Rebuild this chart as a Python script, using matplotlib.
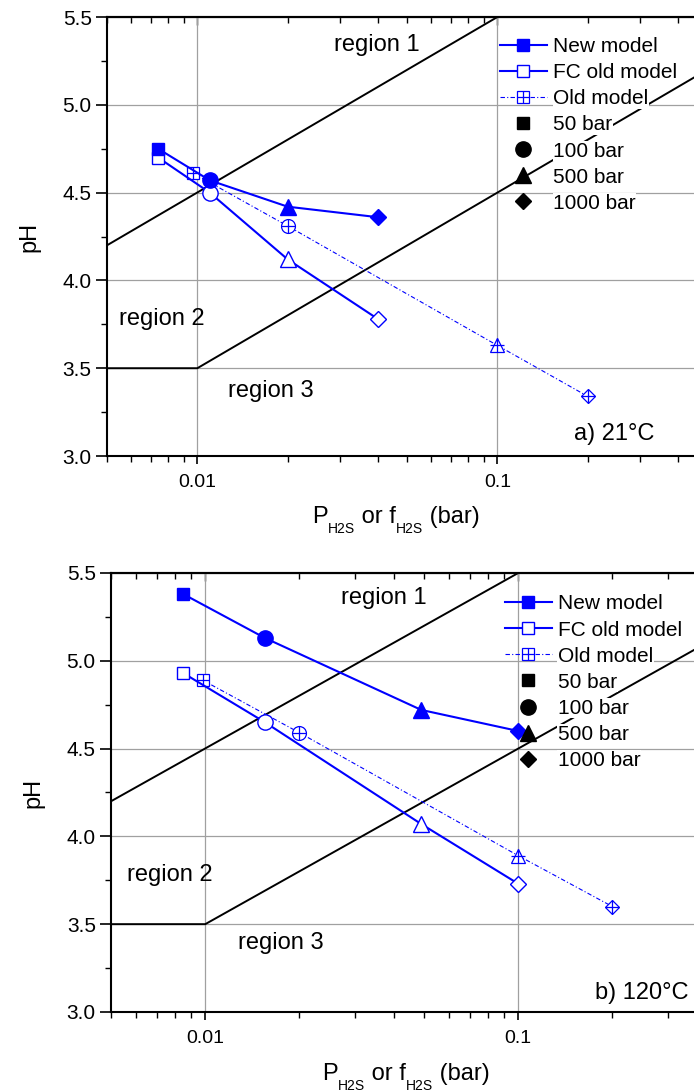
# pH vs H2S partial pressure / fugacity, two temperatures, with the sour-service region lines
import matplotlib
matplotlib.use('Agg')
import matplotlib.pyplot as plt
from matplotlib.lines import Line2D
from matplotlib.ticker import FixedLocator, FixedFormatter, LogLocator, NullFormatter, MultipleLocator, FormatStrFormatter

plt.rcParams['font.family'] = ['Liberation Sans', 'DejaVu Sans']

# a) 21 C  (points are 50, 100, 500, 1000 bar)
new_x_21 = [0.0074, 0.011, 0.02, 0.04]
new_ph_21 = [4.75, 4.57, 4.42, 4.36]
fc_x_21 = [0.0074, 0.011, 0.02, 0.04]
fc_ph_21 = [4.70, 4.50, 4.12, 3.78]
old_x_21 = [0.0097, 0.02, 0.1, 0.2]
old_ph_21 = [4.61, 4.31, 3.63, 3.34]

# b) 120 C
new_x_120 = [0.0085, 0.0155, 0.049, 0.1]
new_ph_120 = [5.38, 5.13, 4.72, 4.60]
fc_x_120 = [0.0085, 0.0155, 0.049, 0.1]
fc_ph_120 = [4.93, 4.65, 4.07, 3.73]
old_x_120 = [0.0098, 0.02, 0.1, 0.2]
old_ph_120 = [4.89, 4.59, 3.89, 3.60]

# region boundary lines (same in both panels)
bound1_x = [0.005, 0.1]
bound1_ph = [4.2, 5.5]
bound2_x = [0.005, 0.01, 1.0]
bound2_ph = [3.5, 3.5, 5.5]

pressure_labels = ['50 bar', '100 bar', '500 bar', '1000 bar']
pressure_markers = ['s', 'o', '^', 'D']
marker_sizes = [9, 11, 11, 8]
old_marker_sizes = [9, 10, 10, 7.5]
x_tick_vals = [0.01, 0.1]
x_tick_text = ['0.01', '0.1']

blue = '#0000ff'
old_dashes = (4, 2, 1, 2)


def plus_size(marker, ms):
    # the cross inside the old-model symbols spans the whole marker
    return ms * 1.41 if marker == 'D' else ms


def h2s_xlabel(ax, x0, y0):
    # "P_H2S or f_H2S (bar)" with small, low subscripts, built piece by piece
    p = ax.text(x0, y0, 'P', transform=ax.transAxes, fontsize=17, ha='left', va='baseline')
    s1 = ax.annotate('H2S', xy=(1, 0), xycoords=p, xytext=(0, 4.5), textcoords='offset points',
                     fontsize=10, ha='left', va='top')
    w = ax.annotate(' or f', xy=(1, 0), xycoords=(s1, p), fontsize=17, ha='left', va='bottom')
    s2 = ax.annotate('H2S', xy=(1, 0), xycoords=w, xytext=(0, 4.5), textcoords='offset points',
                     fontsize=10, ha='left', va='top')
    ax.annotate(' (bar)', xy=(1, 0), xycoords=(s2, p), fontsize=17, ha='left', va='bottom')


def draw_panel(ax, new_x, new_ph, fc_x, fc_ph, old_x, old_ph):
    ax.set_xscale('log')
    ax.set_xlim(0.005, 0.5)
    ax.set_ylim(3.0, 5.5)
    ax.set_axisbelow(True)
    ax.grid(True, which='major', color='#a0a0a0', lw=0.9)

    # region lines
    ax.plot(bound1_x, bound1_ph, color='k', lw=1.4, zorder=2)
    ax.plot(bound2_x, bound2_ph, color='k', lw=1.4, zorder=2)

    # old model: thin dashed line, open markers with a cross
    ax.plot(old_x, old_ph, color=blue, lw=0.8, dashes=old_dashes, zorder=3)
    for i in range(len(old_x)):
        m = pressure_markers[i]
        ax.plot(old_x[i], old_ph[i], ls='none', marker=m, ms=old_marker_sizes[i],
                mfc='white', mec=blue, mew=0.9, zorder=4)
        ax.plot(old_x[i], old_ph[i], ls='none', marker='+', ms=plus_size(m, old_marker_sizes[i]),
                mec=blue, mew=0.9, zorder=4)

    # FC old model: solid line, open markers
    ax.plot(fc_x, fc_ph, color=blue, lw=1.5, zorder=5)
    for i in range(len(fc_x)):
        ax.plot(fc_x[i], fc_ph[i], ls='none', marker=pressure_markers[i], ms=marker_sizes[i],
                mfc='white', mec=blue, mew=1.0, zorder=6)

    # new model: solid line, filled markers
    ax.plot(new_x, new_ph, color=blue, lw=1.5, zorder=7)
    for i in range(len(new_x)):
        ax.plot(new_x[i], new_ph[i], ls='none', marker=pressure_markers[i], ms=marker_sizes[i],
                mfc=blue, mec=blue, mew=1.0, zorder=8)

    # ticks
    ax.xaxis.set_major_locator(FixedLocator(x_tick_vals))
    ax.xaxis.set_major_formatter(FixedFormatter(x_tick_text))
    ax.xaxis.set_minor_locator(LogLocator(base=10, subs=range(2, 10)))
    ax.xaxis.set_minor_formatter(NullFormatter())
    ax.yaxis.set_major_locator(MultipleLocator(0.5))
    ax.yaxis.set_minor_locator(MultipleLocator(0.25))
    ax.yaxis.set_major_formatter(FormatStrFormatter('%.1f'))
    ax.tick_params(axis='x', which='major', direction='out', length=6, width=1.2, labelsize=14, pad=7)
    ax.tick_params(axis='x', which='minor', direction='out', length=4, width=1.0)
    ax.tick_params(axis='y', which='major', direction='out', length=8, width=1.2, labelsize=15, pad=3)
    ax.tick_params(axis='y', which='minor', direction='out', length=4, width=1.0)
    for s in ax.spines.values():
        s.set_linewidth(1.5)
    ax.spines['right'].set_visible(False)

    # inward ticks along the top edge
    top = ax.secondary_xaxis('top')
    top.xaxis.set_major_locator(FixedLocator(x_tick_vals))
    top.xaxis.set_minor_locator(LogLocator(base=10, subs=range(2, 10)))
    top.xaxis.set_minor_formatter(NullFormatter())
    top.tick_params(which='both', direction='in', labeltop=False, width=1.0)
    top.tick_params(which='major', length=6)
    top.tick_params(which='minor', length=4)
    top.spines['top'].set_linewidth(1.5)

    ax.set_ylabel('pH', fontsize=17, labelpad=16)

    # legend: model lines, then the pressure symbols
    handles = [
        Line2D([], [], color=blue, lw=1.5, marker='s', ms=9, mfc=blue, mec=blue),
        Line2D([], [], color=blue, lw=1.5, marker='s', ms=9, mfc='white', mec=blue),
        (Line2D([], [], color=blue, lw=0.8, dashes=old_dashes, marker='s', ms=9,
                mfc='white', mec=blue, mew=0.9),
         Line2D([], [], ls='none', marker='+', ms=9, mec=blue, mew=0.9)),
    ]
    for i in range(len(pressure_labels)):
        handles.append(Line2D([], [], ls='none', marker=pressure_markers[i], ms=marker_sizes[i],
                              color='k'))
    labels = ['New model', 'FC old model', 'Old model'] + pressure_labels
    return handles, labels


fig = plt.figure(figsize=(6.94, 10.92), dpi=100)
ax1 = fig.add_axes([0.1542, 0.5824, 0.8646, 0.4020])
ax2 = fig.add_axes([0.1600, 0.0733, 0.9020, 0.4020])

h, lab = draw_panel(ax1, new_x_21, new_ph_21, fc_x_21, fc_ph_21, old_x_21, old_ph_21)
leg1 = ax1.legend(h, lab, loc='upper left', bbox_to_anchor=(0.655, 0.954), frameon=False,
                  fontsize=15, handlelength=2.25, handletextpad=0.3, labelspacing=0.34,
                  borderpad=0, borderaxespad=0)
leg1.set_zorder(10)
h2s_xlabel(ax1, 0.342, -0.153)
ax1.text(0.0285, 5.34, 'region 1', fontsize=17, va='center', ha='left')
ax1.text(0.0055, 3.78, 'region 2', fontsize=17, va='center', ha='left')
ax1.text(0.0127, 3.37, 'region 3', fontsize=17, va='center', ha='left')
ax1.text(0.335, 3.125, 'a) 21°C', fontsize=17, va='center', ha='right')

h, lab = draw_panel(ax2, new_x_120, new_ph_120, fc_x_120, fc_ph_120, old_x_120, old_ph_120)
leg2 = ax2.legend(h, lab, loc='upper left', bbox_to_anchor=(0.629, 0.951), frameon=False,
                  fontsize=15, handlelength=2.25, handletextpad=0.3, labelspacing=0.34,
                  borderpad=0, borderaxespad=0)
leg2.set_zorder(10)
h2s_xlabel(ax2, 0.338, -0.155)
ax2.text(0.0272, 5.36, 'region 1', fontsize=17, va='center', ha='left')
ax2.text(0.00564, 3.78, 'region 2', fontsize=17, va='center', ha='left')
ax2.text(0.0127, 3.39, 'region 3', fontsize=17, va='center', ha='left')
ax2.text(0.176, 3.11, 'b) 120°C', fontsize=17, va='center', ha='left')

# white boxes behind the legend text, as in the original
for leg in (leg1, leg2):
    for t in leg.get_texts():
        t.set_bbox(dict(facecolor='white', edgecolor='none', pad=0.5))

fig.savefig('out.png', dpi=100)
print('saved out.png')
